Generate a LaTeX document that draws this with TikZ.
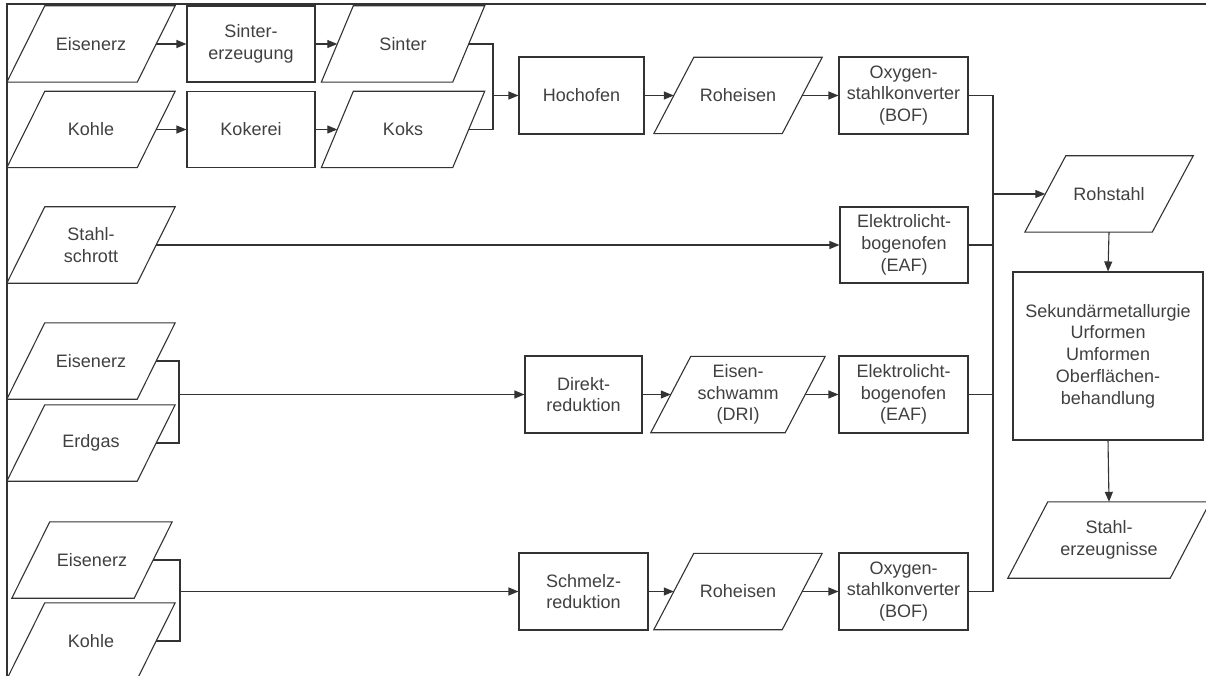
\documentclass[tikz,border=0pt]{standalone}
\usepackage{fontspec}
\setmainfont{Liberation Sans}
\usetikzlibrary{arrows.meta}
\tikzset{
  ln/.style={draw=black!80, line width=1.1pt},
  arr/.style={ln, -{Triangle[length=10pt,width=8pt]}},
  txt/.style={font=\fontsize{18}{21.7}\selectfont, text=black!75, align=center, inner sep=0pt},
  box/.style={txt, ln, minimum height=76pt},
  pbox/.style={txt, minimum height=76pt},
}
% #1 half slant, #2 name, #3 position, #4 width at mid height, #5 text
\newcommand{\para}[5][19]{%
  \node[pbox, minimum width=#4] (#2) at (#3) {#5};
  \draw[ln] ([xshift=#1pt]#2.north west) -- ([xshift=#1pt]#2.north east)
    -- ([xshift=-#1pt]#2.south east) -- ([xshift=-#1pt]#2.south west) -- cycle;
}
\begin{document}
\begin{tikzpicture}[x=1pt,y=-1pt]
\useasboundingbox (0,0) rectangle (1206,676);
% frame
\draw[ln] (7,676) -- (7,4) -- (1206,4);

% row 1
\para{ez1}{91,44}{130pt}{Eisenerz}
\node[box, minimum width=128pt] (sz) at (251,44) {Sinter-\\erzeugung};
\para[16]{si}{403,44}{131pt}{Sinter}
\para{ko1}{91,129.5}{130pt}{Kohle}
\node[box, minimum width=128pt] (kk) at (251,129.5) {Kokerei};
\para[16]{ks}{403,129.5}{131pt}{Koks}
\node[box, minimum width=125pt, minimum height=77pt] (ho) at (581.5,95.5) {Hochofen};
\para[20]{re1}{738,95.5}{128pt}{Roheisen}
\node[box, minimum width=129pt, minimum height=77pt] (ox1) at (903.5,95.5) {Oxygen-\\stahlkonverter\\(BOF)};

% row 2
\para{ss}{91,245}{130pt}{Stahl-\\schrott}
\node[box, minimum width=128pt] (eaf2) at (904,245) {Elektrolicht-\\bogenofen\\(EAF)};

% row 3
\para{ez3}{91,361}{130pt}{Eisenerz}
\para{eg}{91,443}{130pt}{Erdgas}
\node[box, minimum width=117pt, minimum height=77pt] (dr) at (583.5,394.5) {Direkt-\\reduktion};
\para[20]{es}{738,394.5}{134pt}{Eisen-\\schwamm\\(DRI)}
\node[box, minimum width=129pt, minimum height=77pt] (eaf3) at (903.5,394.5) {Elektrolicht-\\bogenofen\\(EAF)};

% row 4
\para{ez4}{92,560}{122pt}{Eisenerz}
\para{ko4}{91,641}{130pt}{Kohle}
\node[box, minimum width=129pt, minimum height=77pt] (sr) at (583.5,591.5) {Schmelz-\\reduktion};
\para[20]{re4}{738,591.5}{128pt}{Roheisen}
\node[box, minimum width=129pt, minimum height=77pt] (ox4) at (903.5,591.5) {Oxygen-\\stahlkonverter\\(BOF)};

% right column
\para[20.5]{rs}{1109,194}{127pt}{Rohstahl}
\node[box, minimum width=190pt, minimum height=168pt] (sek) at (1108,356) {Sekund\"armetallurgie\\Urformen\\Umformen\\Oberfl\"achen-\\behandlung};
\para[20]{se}{1109,540}{162pt}{Stahl-\\erzeugnisse};

% junction coordinates
\coordinate (j1) at (493,0);
\coordinate (j3) at (179,0);
\coordinate (j4) at (180,0);
\coordinate (bus) at (993,0);

% row 1 connectors
\draw[arr] (ez1.east) -- (sz.west);
\draw[arr] (sz.east) -- (si.west);
\draw[arr] (ko1.east) -- (kk.west);
\draw[arr] (kk.east) -- (ks.west);
\draw[ln] (si.east) -- (si.east -| j1) -- (ks.east -| j1) -- (ks.east);
\draw[arr] (ho.west -| j1) -- (ho.west);
\draw[arr] (ho.east) -- (re1.west);
\draw[arr] (re1.east) -- (ox1.west);

% row 2
\draw[arr] (ss.east) -- (eaf2.west);

% row 3
\draw[ln] (ez3.east) -- (ez3.east -| j3) -- (eg.east -| j3) -- (eg.east);
\draw[arr] (dr.west -| j3) -- (dr.west);
\draw[arr] (dr.east) -- (es.west);
\draw[arr] (es.east) -- (eaf3.west);

% row 4
\draw[ln] (ez4.east) -- (ez4.east -| j4) -- (ko4.east -| j4) -- (ko4.east);
\draw[arr] (sr.west -| j4) -- (sr.west);
\draw[arr] (sr.east) -- (re4.west);
\draw[arr] (re4.east) -- (ox4.west);

% bus
\draw[ln] (ox1.east) -- (ox1.east -| bus) -- (ox4.east -| bus) -- (ox4.east);
\draw[ln] (eaf2.east) -- (eaf2.east -| bus);
\draw[ln] (eaf3.east) -- (eaf3.east -| bus);
\draw[arr] (rs.west -| bus) -- (rs.west);
\draw[arr] (rs.south) -- (sek.north);
\draw[arr] (sek.south) -- (se.north);
\end{tikzpicture}
\end{document}
